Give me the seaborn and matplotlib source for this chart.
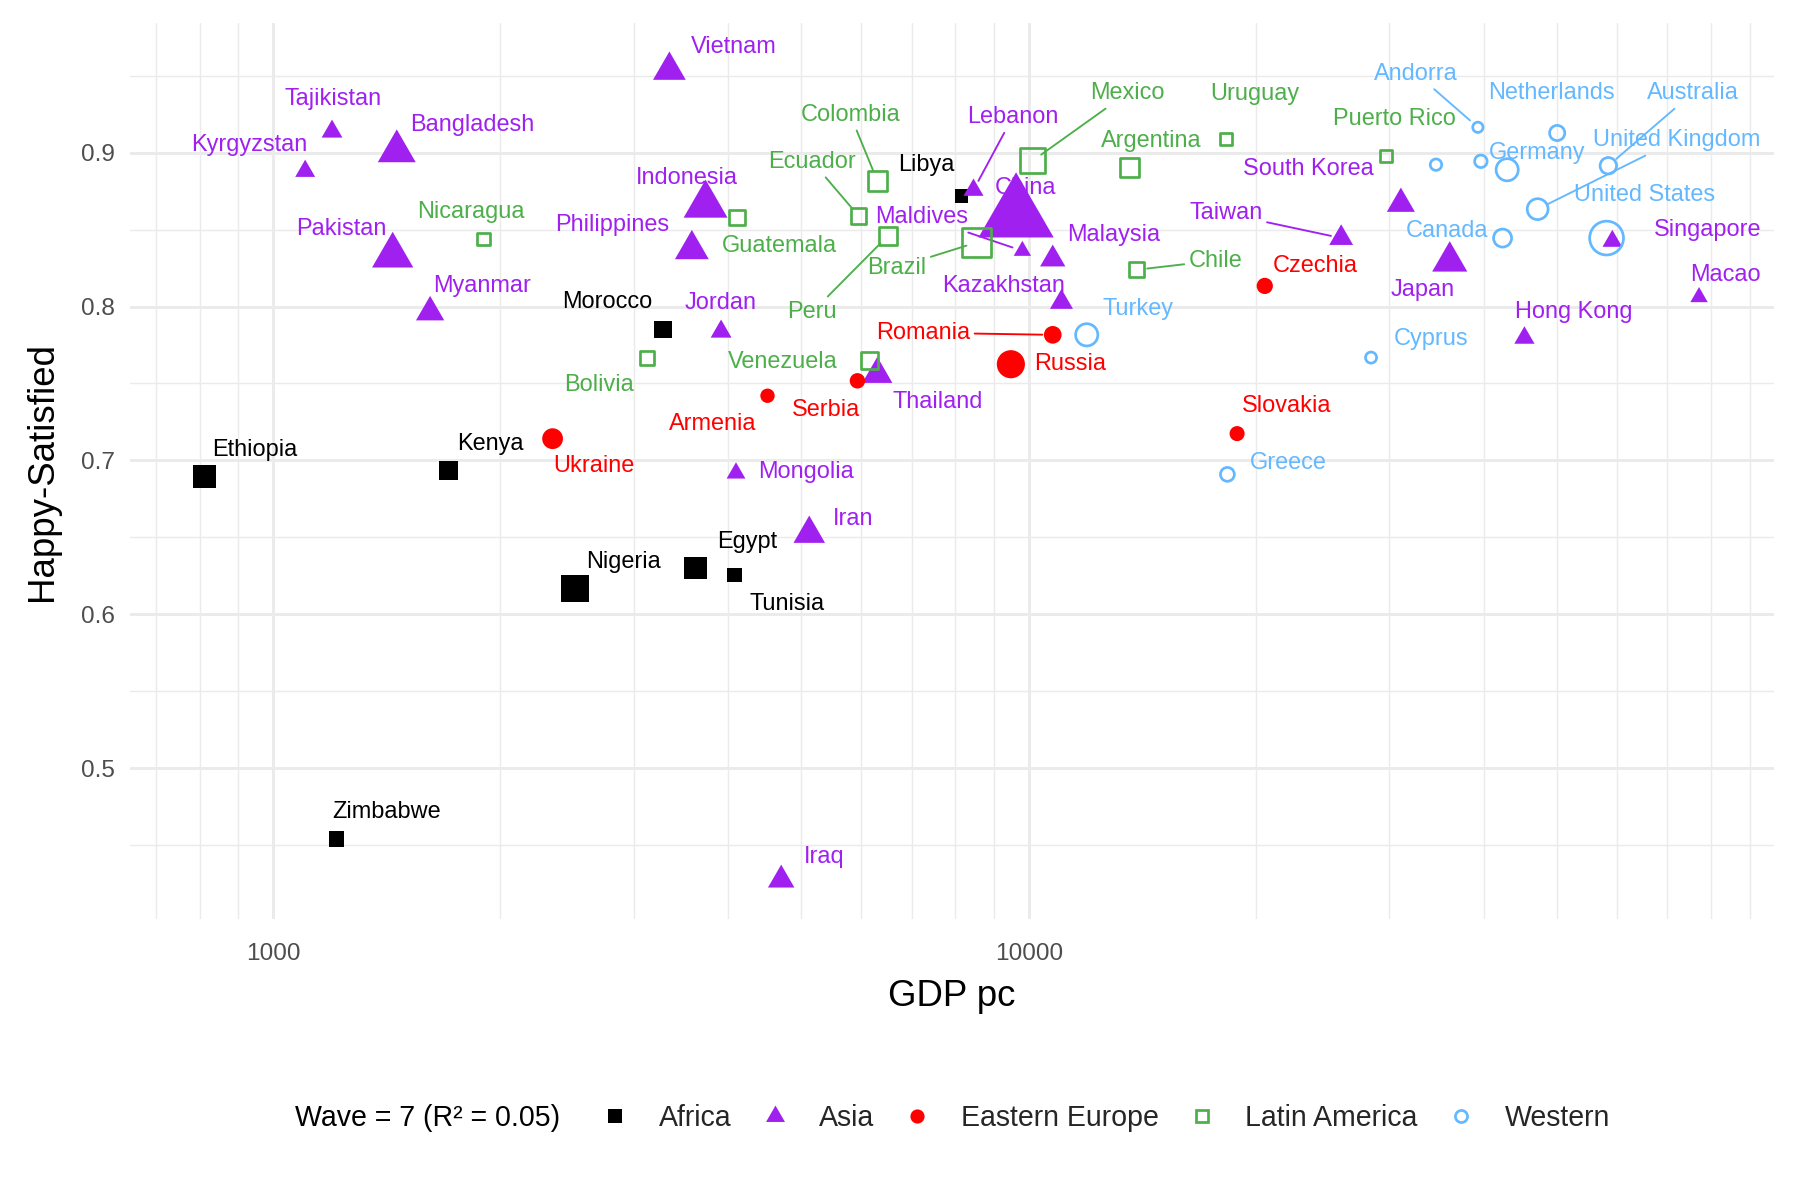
import numpy as np
import pandas as pd
import matplotlib
matplotlib.use("Agg")
import matplotlib.pyplot as plt
import matplotlib.ticker as mticker
from matplotlib.colors import PowerNorm
from matplotlib.lines import Line2D
from matplotlib.markers import MarkerStyle
import seaborn as sns

# --- Data ---
COUNTRY = [
    "Ethiopia", "Kenya", "Nigeria", "Egypt", "Tunisia", "Morocco", "Libya", "Zimbabwe",
    "Vietnam", "Tajikistan", "Kyrgyzstan", "Bangladesh", "Pakistan", "Myanmar", "Indonesia",
    "Philippines", "Jordan", "Mongolia", "Iran", "Iraq", "Thailand", "Lebanon", "China",
    "Maldives", "Malaysia", "Kazakhstan", "Taiwan", "South Korea", "Japan", "Singapore",
    "Hong Kong", "Macao",
    "Ukraine", "Armenia", "Serbia", "Romania", "Russia", "Czechia", "Slovakia",
    "Nicaragua", "Bolivia", "Guatemala", "Colombia", "Ecuador", "Peru", "Venezuela",
    "Brazil", "Mexico", "Argentina", "Chile", "Uruguay", "Puerto Rico",
    "Turkey", "Greece", "Cyprus", "Andorra", "Netherlands", "Northern Ireland",
    "New Zealand", "Germany", "United Kingdom", "Australia", "United States", "Canada",
]
REGION = (["Africa"] * 8 + ["Asia"] * 24 + ["Eastern Europe"] * 7
          + ["Latin America"] * 13 + ["Western"] * 12)
GDP = [
    811, 1706, 2508, 3626, 4083, 3282, 8149, 1212,
    3346, 1197, 1103, 1458, 1440, 1614, 3736,
    3583, 3917, 4099, 5124, 4704, 6305, 8452, 9623,
    9809, 10760, 11050, 25910, 31080, 36070, 59200,
    45290, 77100,
    2344, 4512, 5934, 10760, 9471, 20530, 18870,
    1901, 3125, 4111, 6305, 5955, 6510, 6153,
    8527, 10123, 13610, 13900, 18230, 29700,
    11934, 18320, 28380, 39300, 50040, 34590,
    39660, 42970, 47150, 58480, 58170, 42370,
]
HAPPY = [
    0.6894, 0.6936, 0.6167, 0.6300, 0.6255, 0.7850, 0.8720, 0.4539,
    0.9535, 0.9137, 0.8880, 0.9009, 0.8331, 0.7963, 0.8660,
    0.8371, 0.7837, 0.6917, 0.6523, 0.4273, 0.7560, 0.8757, 0.8590,
    0.8362, 0.8308, 0.8028, 0.8445, 0.8668, 0.8293, 0.8425,
    0.7796, 0.8061,
    0.7141, 0.7420, 0.7517, 0.7816, 0.7625, 0.8134, 0.7174,
    0.8439, 0.7663, 0.8578, 0.8817, 0.8589, 0.8459, 0.7650,
    0.8416, 0.8948, 0.8905, 0.8239, 0.9089, 0.8980,
    0.7816, 0.6909, 0.7668, 0.9165, 0.9128, 0.8922,
    0.8944, 0.8889, 0.8633, 0.8915, 0.8445, 0.8445,
]
# population in millions (drives marker size)
POP = [
    115, 53, 206, 102, 12, 37, 7, 15,
    97, 9.5, 6.5, 165, 220, 54, 270,
    110, 10, 3.3, 84, 40, 70, 6.8, 1400,
    0.5, 32, 19, 23.6, 51.8, 126, 5.7,
    7.5, 0.65,
    44, 3, 7, 19, 145, 10.7, 5.5,
    6.6, 11.7, 17, 51, 17.6, 33, 28,
    212, 128, 45, 19, 3.5, 3.2,
    84, 10.5, 1.2, 0.08, 17.4, 1.9,
    5, 83, 67, 25.7, 330, 38,
]
REGIONS = ["Africa", "Asia", "Eastern Europe", "Latin America", "Western"]
LEGEND_TITLE = "Wave = 7 (R\u00b2 = 0.05)"

df = pd.DataFrame({"country": COUNTRY, "region": REGION, "gdp": GDP,
                   "happy": HAPPY, "pop": POP})

# --- Label placement (offset in points from the point, label centre) ---
LABEL_OFFSET = {
    "Ethiopia": (24, 13), "Kenya": (20, 12.5), "Nigeria": (23.6, 12.5), "Egypt": (24.5, 12.6),
    "Tunisia": (25, -13.9), "Morocco": (-27, 13.3), "Libya": (-16.8, 14.6), "Zimbabwe": (24.2, 13.1),
    "Vietnam": (31, 11.2), "Tajikistan": (0.3, 15.8), "Kyrgyzstan": (-27, 12.7),
    "Bangladesh": (36.4, 12.6), "Pakistan": (-24.5, 13), "Myanmar": (24.7, 12.7),
    "Indonesia": (-9, 13), "Philippines": (-38.2, 11.7), "Jordan": (-0.4, 13.7),
    "Mongolia": (33.7, 0.6), "Iran": (21, 7), "Iraq": (20.8, 11.2), "Thailand": (28.9, -13.2),
    "Lebanon": (18.8, 35), "China": (4.4, 13.2), "Maldives": (-48.2, 16.3),
    "Malaysia": (29.2, 11.4), "Kazakhstan": (-27.9, 7.8), "Taiwan": (-55.4, 11.8),
    "South Korea": (-44.4, 16.8), "Japan": (-12.8, -13.9), "Singapore": (45.7, 5.5),
    "Hong Kong": (23.5, 12.3), "Macao": (12.9, 10.4),
    "Ukraine": (19.9, -13.2), "Armenia": (-26.1, -13.4), "Serbia": (-15.3, -13.9),
    "Romania": (-62.3, 1), "Russia": (28.4, 0), "Czechia": (24.3, 9.4), "Slovakia": (23.9, 13.1),
    "Nicaragua": (-6, 12.8), "Bolivia": (-23.2, -12.6), "Guatemala": (20.6, -13.5),
    "Colombia": (-13, 31.7), "Ecuador": (-22.2, 26), "Peru": (-36.3, -36.6),
    "Venezuela": (-41.7, -0.6), "Brazil": (-38.3, -12), "Mexico": (45.5, 32.5),
    "Argentina": (10.4, 12.5), "Chile": (37.9, 4.4), "Uruguay": (13.8, 21.5),
    "Puerto Rico": (4.1, 17.5),
    "Turkey": (24.5, 12.6), "Greece": (29.1, 5.6), "Cyprus": (28.9, 9.1),
    "Andorra": (-29.6, 25.8), "Netherlands": (-2.6, 19.2), "Germany": (14.2, 8.2),
    "United Kingdom": (66.8, 33.2), "Australia": (40.5, 34.9), "United States": (18.2, 20.6),
    "Canada": (-26.6, 3.5),
}
SEGMENT = {"Lebanon", "Maldives", "Taiwan", "Romania", "Colombia", "Ecuador", "Peru",
           "Brazil", "Mexico", "Chile", "Andorra", "United Kingdom", "Australia"}

# --- Styles ---
TRI = MarkerStyle([(0, 1), (-0.866, -0.5), (0.866, -0.5)])
STYLE = {
    "Africa":         dict(marker=MarkerStyle("s"), color="black",   open=False, sizes=(30.5, 607), key=7.0),
    "Asia":           dict(marker=TRI,              color="#A020F0", open=False, sizes=(87.6, 1739), key=10.5),
    "Eastern Europe": dict(marker=MarkerStyle("o"), color="#FF0000", open=False, sizes=(38.9, 773), key=6.8),
    "Latin America":  dict(marker=MarkerStyle("s"), color="#4DAF4A", open=True,  sizes=(24.4, 702), key=5.8),
    "Western":        dict(marker=MarkerStyle("o"), color="#63B8FF", open=True,  sizes=(24.4, 702), key=5.8),
}
OPEN_LW = 1.3
size_norm = PowerNorm(gamma=0.72, vmin=min(POP), vmax=max(POP))

sns.set_theme(style="whitegrid")
plt.rcParams["font.family"] = ["Liberation Sans", "DejaVu Sans"]

fig = plt.figure(figsize=(12, 8), dpi=150)
ax = fig.add_axes([0.072, 0.2338, 0.9134, 0.7473])

# --- Points ---
for region in REGIONS:
    st = STYLE[region]
    sub = df[df["region"] == region]
    if st["open"]:
        extra = dict(facecolor="none", edgecolor=st["color"], linewidth=OPEN_LW)
    else:
        extra = dict(edgecolor="none", linewidth=0)
    sns.scatterplot(data=sub, x="gdp", y="happy", size="pop", sizes=st["sizes"],
                    size_norm=size_norm, marker=st["marker"], color=st["color"],
                    legend=False, ax=ax, zorder=3, **extra)

# --- Labels ---
for _, row in df.iterrows():
    name = row["country"]
    if name not in LABEL_OFFSET:
        continue
    c = STYLE[row["region"]]["color"]
    arrow = None
    if name in SEGMENT:
        arrow = dict(arrowstyle="-", color=c, lw=0.9, shrinkA=0, shrinkB=5)
    ax.annotate(name, xy=(row["gdp"], row["happy"]), xytext=LABEL_OFFSET[name],
                textcoords="offset points", ha="center", va="center",
                fontsize=11.3, color=c, arrowprops=arrow, zorder=2.5)

# --- Axes ---
ax.set_xscale("log")
ax.set_xlim(646, 96800)
ax.set_ylim(0.4016, 0.9845)
ax.xaxis.set_major_locator(mticker.FixedLocator([1000, 10000]))
ax.xaxis.set_major_formatter(mticker.FixedFormatter(["1000", "10000"]))
ax.xaxis.set_minor_locator(mticker.LogLocator(base=10, subs=np.arange(2, 10)))
ax.xaxis.set_minor_formatter(mticker.NullFormatter())
ax.yaxis.set_major_locator(mticker.FixedLocator([0.5, 0.6, 0.7, 0.8, 0.9]))
ax.yaxis.set_major_formatter(mticker.FixedFormatter(["0.5", "0.6", "0.7", "0.8", "0.9"]))
ax.yaxis.set_minor_locator(mticker.FixedLocator([0.45, 0.55, 0.65, 0.75, 0.85, 0.95]))

ax.set_facecolor("white")
ax.set_axisbelow(True)
ax.grid(which="major", color="#EBEBEB", linewidth=1.4)
ax.grid(which="minor", color="#EBEBEB", linewidth=0.7)
for s in ax.spines.values():
    s.set_visible(False)
ax.tick_params(which="both", length=0)
ax.tick_params(axis="x", pad=11.2, labelsize=11.7, labelcolor="#4D4D4D")
ax.tick_params(axis="y", pad=7, labelsize=11.7, labelcolor="#4D4D4D")
ax.set_xlabel("GDP pc", fontsize=17.6, color="black", labelpad=6.8)
ax.set_ylabel("Happy-Satisfied", fontsize=17.6, color="black", labelpad=10.3)

# --- Legend (bottom, title on the left) ---
handles = []
for region in REGIONS:
    st = STYLE[region]
    if st["open"]:
        h = Line2D([], [], linestyle="none", marker=st["marker"], markersize=st["key"],
                   markerfacecolor="none", markeredgecolor=st["color"], markeredgewidth=OPEN_LW)
    else:
        h = Line2D([], [], linestyle="none", marker=st["marker"], markersize=st["key"],
                   markerfacecolor=st["color"], markeredgecolor="none")
    handles.append(h)

fig.text(0.164, 0.0683, LEGEND_TITLE, ha="left", va="center", fontsize=13.7, color="black")
fig.legend(handles, REGIONS, loc="center left", bbox_to_anchor=(0.334, 0.0683),
           ncol=5, frameon=False, fontsize=13.7, handlelength=1.0, handletextpad=1.04,
           columnspacing=1.0, borderpad=0, borderaxespad=0)

fig.savefig("out.png", dpi=150, facecolor="white")
plt.close(fig)
